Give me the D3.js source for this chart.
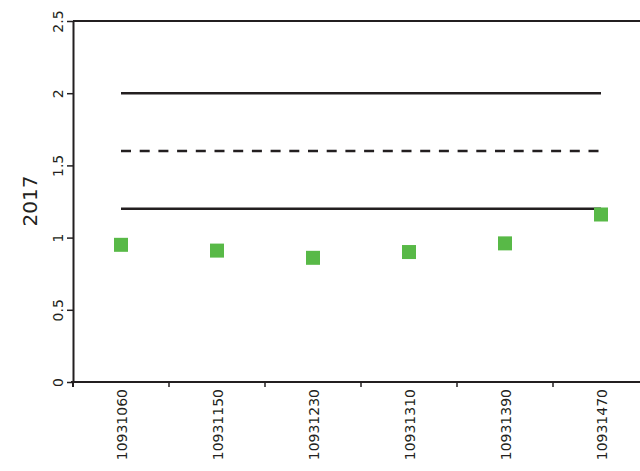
<!DOCTYPE html>
<html>
<head>
<meta charset="utf-8">
<script src="https://cdn.jsdelivr.net/npm/d3@7"></script>
<style>
html,body{margin:0;padding:0;background:#fff;}
svg{display:block;}
text{font-family:"DejaVu Sans",Verdana,sans-serif;fill:#231f20;}
</style>
</head>
<body>
<svg id="chart" width="640" height="471"></svg>
<script>
const categories = ["10931060","10931150","10931230","10931310","10931390","10931470"];
const values = [0.95, 0.91, 0.86, 0.90, 0.96, 1.16];
const yTicks = [0, 0.5, 1, 1.5, 2, 2.5];
const yTickLabels = ["0","0.5","1","1.5","2","2.5"];
const upperLimit = 2.0;
const target = 1.6;
const lowerLimit = 1.2;
const yTitle = "2017";

const svg = d3.select("#chart");
const W = 640, H = 471;
const m = {left: 73, top: 21, bottom: 382};
const x = d3.scaleBand().domain(categories).range([m.left, m.left + 96*categories.length]).padding(0);
const y = d3.scaleLinear().domain([0, 2.5]).range([m.bottom, m.top]);
const ink = "#231f20";
const ff = "DejaVu Sans, Verdana, sans-serif";

// top border
svg.append("line").attr("x1", m.left).attr("x2", W).attr("y1", y(2.5)).attr("y2", y(2.5))
  .attr("stroke", ink).attr("stroke-width", 2);

// y axis
const yAxis = svg.append("g").attr("transform", `translate(${m.left},0)`)
  .call(d3.axisLeft(y).tickValues(yTicks).tickFormat((d,i)=>yTickLabels[i]).tickSize(6).tickSizeOuter(0));
yAxis.select(".domain").attr("stroke", ink).attr("stroke-width", 2);
yAxis.selectAll(".tick line").attr("stroke", ink).attr("stroke-width", 1.5);
yAxis.selectAll(".tick text")
  .attr("x", 0).attr("y", 0).attr("dy", null)
  .attr("transform", "translate(-10,0) rotate(-90)")
  .attr("text-anchor", "middle")
  .attr("font-size", 14).style("font-family", ff).attr("fill", ink);

// x axis
const xAxis = svg.append("g").attr("transform", `translate(0,${m.bottom})`)
  .call(d3.axisBottom(x).tickSize(0).tickSizeOuter(0));
xAxis.select(".domain").remove();
svg.append("line").attr("x1", m.left - 2).attr("x2", W).attr("y1", m.bottom).attr("y2", m.bottom)
  .attr("stroke", ink).attr("stroke-width", 2);
// band boundary ticks
svg.append("g").selectAll("line").data(categories).join("line")
  .attr("x1", d => x(d) + x.bandwidth()).attr("x2", d => x(d) + x.bandwidth())
  .attr("y1", m.bottom).attr("y2", m.bottom + 5)
  .attr("stroke", ink).attr("stroke-width", 1.5);
svg.append("line").attr("x1", m.left).attr("x2", m.left).attr("y1", m.bottom).attr("y2", m.bottom + 5)
  .attr("stroke", ink).attr("stroke-width", 2);
xAxis.selectAll(".tick text")
  .attr("x", 0).attr("y", 0).attr("dy", null)
  .attr("transform", "translate(5.5,7) rotate(-90)")
  .attr("text-anchor", "end")
  .attr("font-size", 14).style("font-family", ff).attr("fill", ink);

// reference lines
const x0 = x(categories[0]) + x.bandwidth()/2;
const x1 = x(categories[categories.length-1]) + x.bandwidth()/2;
[[upperLimit, null], [target, "10,8.7"], [lowerLimit, null]].forEach(([v, dash]) => {
  const l = svg.append("line").attr("x1", x0).attr("x2", x1).attr("y1", y(v)).attr("y2", y(v))
    .attr("stroke", ink).attr("stroke-width", 2.5);
  if (dash) l.attr("stroke-dasharray", dash);
});

// markers
const s = 14;
svg.append("g").selectAll("rect").data(values).join("rect")
  .attr("x", (d,i) => x(categories[i]) + x.bandwidth()/2 - s/2)
  .attr("y", d => y(d) - s/2)
  .attr("width", s).attr("height", s)
  .attr("fill", "#58b947");

// y title
svg.append("text").attr("transform", `translate(37,201) rotate(-90)`)
  .attr("text-anchor", "middle").attr("font-size", 20)
  .style("font-family", ff).text(yTitle);
</script>
</body>
</html>
